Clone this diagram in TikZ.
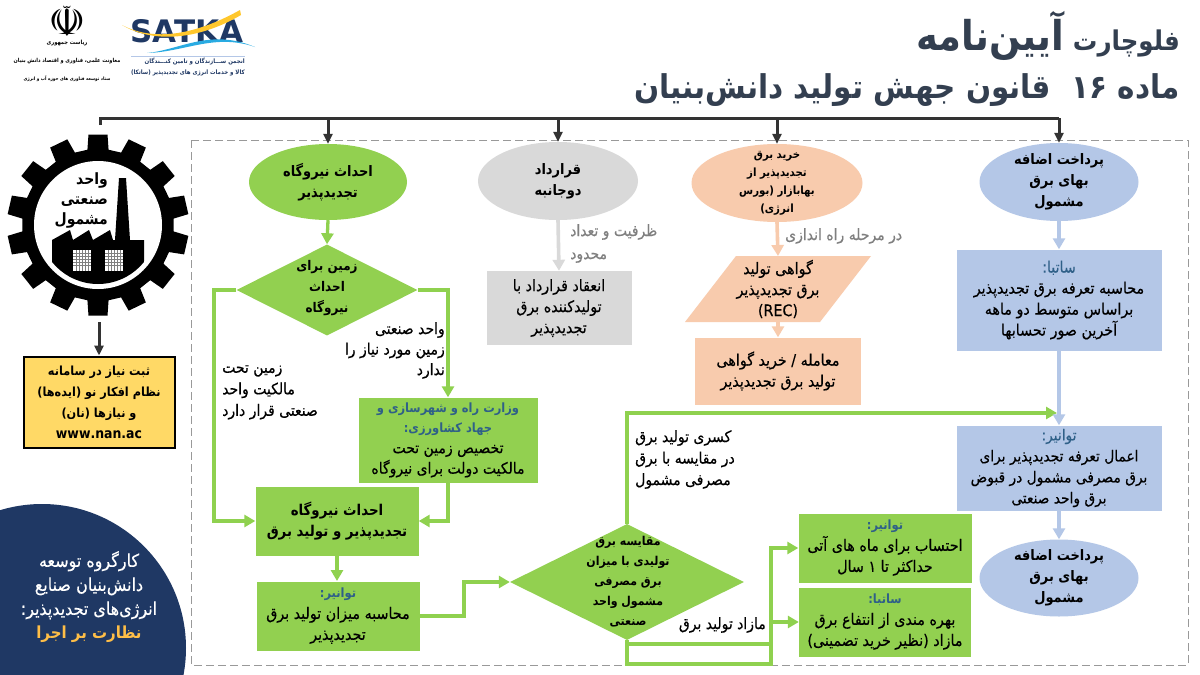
\documentclass[tikz,border=0pt]{standalone}
\usepackage{fontspec}
\usetikzlibrary{arrows.meta,shapes.geometric,calc}
\TeXXeTstate=1
\newfontfamily\faR[Script=Arabic,Scale=1.11,FakeBold=0.35]{DejaVu Sans Condensed}
\newfontfamily\faB[Script=Arabic,Scale=1.11]{DejaVu Sans Condensed Bold}
\setmainfont{DejaVu Sans}
\newcommand\fa[1]{\beginR #1\endR}
\newcommand\fs[2]{\fontsize{#1}{#2}\selectfont}
\definecolor{grn}{HTML}{92D050}
\definecolor{arrgrn}{HTML}{8FD14F}
\definecolor{blu}{HTML}{B4C7E7}
\definecolor{org}{HTML}{F8CBAD}
\definecolor{gry}{HTML}{D9D9D9}
\definecolor{yel}{HTML}{FFD966}
\definecolor{navy}{HTML}{1F3864}
\definecolor{teal}{HTML}{2F6088}
\definecolor{ttl}{HTML}{333F50}
\definecolor{glab}{HTML}{7F7F7F}
\definecolor{satyel}{HTML}{FFC72C}
\definecolor{satcy}{HTML}{29ABE2}
\tikzset{
 boxn/.style={inner sep=0pt,align=center,font=\faR\fs{14.3}{21},text=black},
 elln/.style={ellipse,minimum width=#1,inner sep=0pt},
 ellt/.style={inner sep=0pt,align=center,font=\faB\fs{13}{21}},
 lbl/.style={inner sep=0pt,align=left,font=\faR\fs{14}{21.5},text=black},
 tip/.style={-{Triangle[length=11pt,width=12pt]}},
 garrow/.style={arrgrn,line width=3.3pt,tip},
 gline/.style={arrgrn,line width=3.3pt},
 barrow/.style={black!80,line width=3pt,-{Triangle[length=10pt,width=9pt]}},
}
\begin{document}
\begin{tikzpicture}[x=1pt,y=-1pt]
\useasboundingbox (0,0) rectangle (1200,675);
\fill[white] (0,0) rectangle (1200,675);
% frame
\draw[gray!80,line width=1pt,dash pattern=on 8pt off 4pt] (191,140) rectangle (1188,665);
% title
\node[anchor=east,inner sep=0pt,text=ttl] (t1) at (1180,36) {\faB\fs{24.5}{28}\beginR فلوچارت\ {\fs{37}{40}آیین‌نامه}\endR};
\node[anchor=east,inner sep=0pt,text=ttl] (t2) at (1180,90) {\faB\fs{29.5}{34}\fa{ماده ۱۶\ \ قانون جهش تولید دانش‌بنیان}};
% nodes top row
\node[elln=158pt,minimum height=76pt,fill=grn] (a1) at (328,182) {};
\node[ellt] (a1t) at (328,182) {\fa{احداث نیروگاه}\\\fa{تجدیدپذیر}};
\node[elln=160pt,minimum height=78pt,fill=gry] (b1) at (558,181) {};
\node[ellt] (b1t) at (558,181) {\fa{قرارداد}\\\fa{دوجانبه}};
\node[elln=171pt,minimum height=78pt,fill=org] (c1) at (777,183) {};
\node[ellt,font=\faB\fs{10.2}{18}] (c1t) at (777,183) {\fa{خرید برق}\\\fa{تجدیدپذیر از}\\\fa{بهابازار (بورس}\\\fa{انرژی)}};
\node[elln=159pt,minimum height=78pt,fill=blu] (d1) at (1059,182) {};
\node[ellt] (d1t) at (1059,182) {\fa{پرداخت اضافه}\\\fa{بهای برق}\\\fa{مشمول}};
% green col
\node[diamond,aspect=2,fill=grn,minimum width=181pt,minimum height=91pt,inner sep=0pt] (a2) at (327,290) {};
\node[boxn,font=\faB\fs{12}{21}] (a2t) at (327,288) {\fa{زمین برای}\\\fa{احداث}\\\fa{نیروگاه}};
\node[fill=grn,minimum width=179pt,minimum height=85pt,inner sep=0pt] (a3) at (448,440) {};
\node[boxn,font=\faR\fs{14}{20.5}] (a3t) at (448,440) {\textcolor{teal}{\faB\fs{11.5}{20.5}\fa{وزارت راه و شهرسازی و}}\\\textcolor{teal}{\faB\fs{11.5}{20.5}\fa{جهاد کشاورزی:}}\\\fa{تخصیص زمین تحت}\\\fa{مالکیت دولت برای نیروگاه}};
\node[fill=grn,minimum width=163pt,minimum height=69pt,inner sep=0pt] (a4) at (337,521) {};
\node[boxn,font=\faB\fs{13.4}{21}] (a4t) at (337,521) {\fa{احداث نیروگاه}\\\fa{تجدیدپذیر و تولید برق}};
\node[fill=grn,minimum width=163pt,minimum height=69pt,inner sep=0pt] (a5) at (338,616) {};
\node[boxn] (a5t) at (338,616) {\textcolor{teal}{\faB\fs{11.5}{21}\fa{توانیر:}}\\\fa{محاسبه میزان تولید برق}\\\fa{تجدیدپذیر}};
% diamond 2
\node[diamond,aspect=2,fill=grn,minimum width=234pt,minimum height=116pt,inner sep=0pt] (m) at (627,582) {};
\node[boxn,font=\faB\fs{11}{20}] (mt) at (628,582) {\fa{مقایسه برق}\\\fa{تولیدی با میزان}\\\fa{برق مصرفی}\\\fa{مشمول واحد}\\\fa{صنعتی}};
\node[fill=grn,minimum width=173pt,minimum height=69pt,inner sep=0pt] (t1b) at (885,548) {};
\node[boxn] (t1t) at (885,548) {\textcolor{teal}{\faB\fs{11.5}{21}\fa{توانیر:}}\\\fa{احتساب برای ماه های آتی}\\\fa{حداکثر تا ۱ سال}};
\node[fill=grn,minimum width=172pt,minimum height=69pt,inner sep=0pt] (s1b) at (885,622) {};
\node[boxn] (s1t) at (885,622) {\textcolor{teal}{\faB\fs{11.5}{21}\fa{ساتبا:}}\\\fa{بهره مندی از انتفاع برق}\\\fa{مازاد (نظیر خرید تضمینی)}};
% gray
\node[fill=gry,minimum width=145pt,minimum height=74pt,inner sep=0pt] (b2) at (559,308) {};
\node[boxn] (b2t) at (559,308) {\fa{انعقاد قرارداد با}\\\fa{تولیدکننده برق}\\\fa{تجدیدپذیر}};
% orange
\fill[org] (685,322) -- (736,256) -- (871,256) -- (820,322) -- cycle;
\coordinate (c2t) at (778,256);
\coordinate (c2b) at (778,322);
\node[boxn] (c2) at (778,289) {\fa{گواهی تولید}\\\fa{برق تجدیدپذیر}\\(REC)};
\node[fill=org,minimum width=166pt,minimum height=67pt,inner sep=0pt] (c3) at (778,371) {};
\node[boxn] (c3t) at (778,371) {\fa{معامله / خرید گواهی}\\\fa{تولید برق تجدیدپذیر}};
% blue
\node[fill=blu,minimum width=205pt,minimum height=101pt,inner sep=0pt] (d2) at (1059,300) {};
\node[boxn] (d2t) at (1059,300) {\textcolor{teal}{\faR\fa{ساتبا:}}\\\fa{محاسبه تعرفه برق تجدیدپذیر}\\\fa{براساس متوسط دو ماهه}\\\fa{آخرین صور تحسابها}};
\node[fill=blu,minimum width=205pt,minimum height=85pt,inner sep=0pt] (d3) at (1059,468) {};
\node[boxn,font=\faR\fs{13.8}{21}] (d3t) at (1059,468) {\textcolor{teal}{\faR\fa{توانیر:}}\\\fa{اعمال تعرفه تجدیدپذیر برای}\\\fa{برق مصرفی مشمول در قبوض}\\\fa{برق واحد صنعتی}};
\node[elln=159pt,minimum height=77pt,fill=blu] (d4) at (1059,578) {};
\node[ellt] (d4t) at (1059,578) {\fa{پرداخت اضافه}\\\fa{بهای برق}\\\fa{مشمول}};
% left
\node[draw=black,line width=2pt,fill=yel,minimum width=151pt,minimum height=91pt,inner sep=0pt] (y) at (99,402) {};
\node[boxn,font=\faB\fs{11.3}{21}] (yt) at (99,402) {\fa{ثبت نیاز در سامانه}\\\fa{نظام افکار نو (ایده‌ها)}\\\fa{و نیازها (نان)}\\{\fs{12.5}{21}www.nan.ac}};
% navy shape
\begin{scope}
\clip (0,480) rectangle (200,675);
\fill[navy] (42,648) circle (144);
\end{scope}
\node[boxn,text=white,font=\faR\fs{16}{24}] (w) at (89,597) {\fa{کارگروه توسعه}\\\fa{دانش‌بنیان صنایع}\\\fa{انرژی‌های تجدیدپذیر:}\\\textcolor{yel!70!orange}{\faB\fs{15}{24}\fa{نظارت بر اجرا}}};
% gear
\coordinate (gc) at (98,225);
\fill[black] ($(gc)+(90-8:76)$)
 \foreach \a in {90,115.714,141.43,167.14,192.86,218.57,244.29,270,295.71,321.43,347.14,372.86,398.57,424.29} {
   -- ($(gc)+(\a-8:76)$) -- ($(gc)+(\a-6:91)$) -- ($(gc)+(\a+6:91)$) -- ($(gc)+(\a+8:76)$) }
 -- cycle;
\fill[white] (gc) circle (64);
\begin{scope}
\clip (gc) circle (59);
\fill[black] (52,300) -- (52,240) -- (70,230) -- (73,240) -- (89,230) -- (93,240) -- (110,230) -- (113,240) -- (115,240) -- (119,178) -- (126,178) -- (130,240) -- (144,240) -- (144,300) -- cycle;
\end{scope}
\foreach \x in {73,105}{\fill[white] (\x,250) rectangle +(18,21);
 \foreach \k in {3,6,...,15}{\draw[gray,line width=.4pt] (\x+\k,250) -- +(0,21);\draw[gray,line width=.4pt] (\x,250+\k) -- +(18,0);}}
\node[boxn,font=\faB\fs{14}{20},align=right,anchor=east] (g) at (108,200) {\fa{واحد}\\\fa{صنعتی}\\\fa{مشمول}};
% connector top
\coordinate (bus1) at (100,118);
\coordinate (bus2) at (1059,118);
\draw[black!80,line width=3pt] (100,125) -- (bus1) -- (bus2);
\draw[barrow] (328,118) -- (a1.north);
\draw[barrow] (558,118) -- (b1.north);
\draw[barrow] (777,118) -- (c1.north);
\draw[barrow] (1059,118) -- (d1.north);
\draw[barrow] (99,322) -- (y.north);
% green conn
\draw[garrow] (a1.south) -- (a2.north);
\draw[garrow] (a2.east) -| (a3.north);
\draw[garrow] (a2.west) -- (214,290) |- (a4.west);
\draw[garrow] (448,482) -- (448,521) -- (a4.east);
\draw[garrow] (a4.south) -- (337,581);
\draw[garrow] (a5.east) -- (464,616) |- (m.west);
\draw[gline] (m.north) |- (1040,413);
\draw[garrow] (1040,413) -- (1057,413);
\draw[gline] (m.south) -- (627,644) -- (771,644) -- (771,664) -- (627,664) -- (627,644);
\draw[garrow] (771,644) |- (t1b.west);
\draw[garrow] (771,622) -- (s1b.west);
% gray/orange/blue conn
\draw[gry,line width=3.6pt,tip] (b1.south) -- (b2.north);
\draw[org,line width=3.6pt,tip] (c1.south) -- (c2t);
\draw[org,line width=3.6pt,tip] (c2b) -- (c3.north);
\draw[blu,line width=3.6pt,tip] (d1.south) -- (d2.north);
\draw[blu,line width=3.6pt,tip] (d2.south) -- (d3.north);
\draw[blu,line width=3.6pt,tip] (d3.south) -- (d4.north);
% labels
\node[lbl,align=right,anchor=north east,font=\faR\fs{14}{20.5}] (l1) at (445,322) {\fa{واحد صنعتی}\\\fa{زمین مورد نیاز را}\\\fa{ندارد}};
\node[lbl,anchor=north west] (l2) at (222,365) {\fa{زمین تحت}\\\fa{مالکیت واحد}\\\fa{صنعتی قرار دارد}};
\node[lbl,anchor=north west,text=glab,font=\faR\fs{14}{23}] (l3) at (570,224) {\fa{ظرفیت و تعداد}\\\fa{محدود}};
\node[lbl,anchor=west,text=glab] (l4) at (785,236) {\fa{در مرحله راه اندازی}};
\node[lbl,anchor=north west] (l5) at (635,430) {\fa{کسری تولید برق}\\\fa{در مقایسه با برق}\\\fa{مصرفی مشمول}};
\node[lbl,anchor=east] (l6) at (766,625) {\fa{مازاد تولید برق}};
% logos
\node[inner sep=0pt,font=\fontsize{42}{42}\selectfont,text height=28pt,text depth=0pt,anchor=base] (emb) at (67,36) {☫};
\node[boxn,font=\faB\fs{5.2}{18}] (l7) at (67,61) {\fa{ریاست جمهوری}\\\fs{5}{18}\fa{معاونت علمی، فناوری و اقتصاد دانش بنیان}\\{\faB\fs{4.2}{18}\fa{ستاد توسعه فناوری های حوزه آب و انرژی}}};
\node[inner sep=0pt,font=\bfseries\fs{31}{31},text=navy] (sat) at (187,31) {SATKA};
\fill[satyel] (122,25) .. controls (150,40) and (190,38) .. (240,10) -- (241,15) .. controls (195,42) and (150,42) .. cycle;
\fill[satcy] (147,53) .. controls (180,50) and (210,28) .. (255,47) .. controls (215,33) and (185,52) .. cycle;
\draw[blu,line width=.8pt] (131,56) -- (245,56);
\node[boxn,text=navy,font=\faB\fs{5.5}{10.5},anchor=east,align=right] (l8) at (245,67) {\fa{انجمن ســـازندگان و تامین کنـــندگان}\\\fa{کالا و خدمات انرژی های تجدیدپذیر (ساتکا)}};
\end{tikzpicture}
\end{document}
